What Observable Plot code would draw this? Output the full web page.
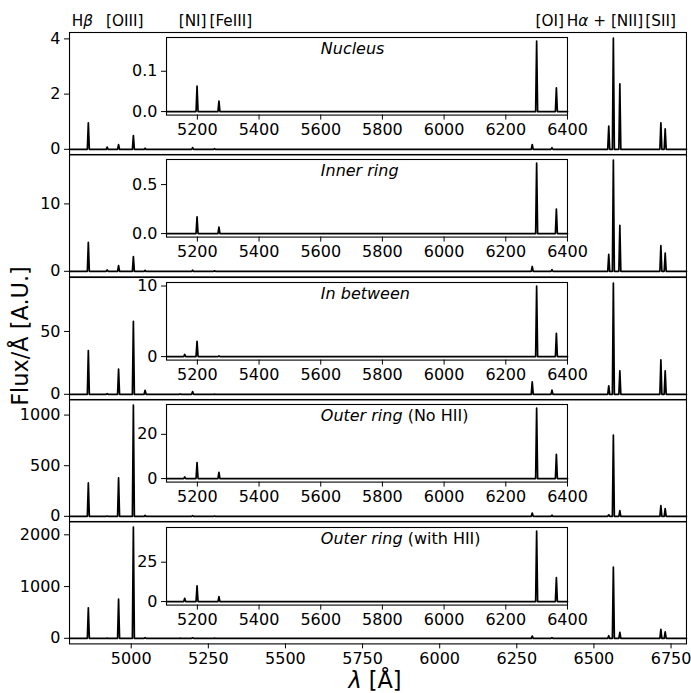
<!DOCTYPE html>
<html>
<head>
<meta charset="utf-8">
<script src="https://cdn.jsdelivr.net/npm/d3@7"></script>
<script src="https://cdn.jsdelivr.net/npm/@observablehq/plot@0.6"></script>
<style>
  body { margin: 0; background: #fff; }
  #chart { position: relative; width: 691px; height: 693px; font-family: "DejaVu Sans", sans-serif; }
  #chart svg { position: absolute; overflow: visible; }
</style>
</head>
<body>
<div id="chart"></div>
<script>
// ---------- DATA ----------
const lineNames = ["Hβ", "HeI 4922", "[OIII] 4959", "[OIII] 5007", "5041", "[FeII] 5159", "[NI] 5199", "[FeIII] 5270",
                   "[OI] 6300", "[OI] 6364", "[NII] 6548", "Hα", "[NII] 6584", "[SII] 6717", "[SII] 6731"];
const lineWaves = [4861, 4922, 4959, 5007, 5045, 5159, 5199, 5270, 6300, 6364, 6548, 6563, 6584, 6717, 6731];

const peaksNucleus    = [0.96, 0.08, 0.17, 0.50, 0.04, 0.0, 0.063, 0.026, 0.175, 0.059, 0.84, 4.03, 2.37, 0.96, 0.74];
const peaksInnerRing  = [4.3, 0.2, 0.85, 2.2, 0.15, 0.0, 0.17, 0.066, 0.72, 0.25, 2.5, 16.5, 6.8, 3.8, 2.7];
const peaksInBetween  = [34.8, 0.5, 20, 58, 3.2, 0.3, 2.15, 0.1, 10.0, 3.3, 6.7, 88.5, 18.7, 27.4, 18.7];
const peaksOuterNoHII = [330, 3, 380, 1099, 10, 0.75, 7.2, 2.8, 31.9, 11, 15, 802, 56, 106, 76];
const peaksOuterHII   = [590, 5, 756, 2150, 15, 2.1, 10, 3.1, 44.8, 15.2, 50, 1377, 115, 173, 127];

const regionNames = ["Nucleus", "Inner ring", "In between", "Outer ring", "Outer ring"];
const regionNotes = ["", "", "", " (No HII)", " (with HII)"];

const topLabels     = ["Hβ", "[OIII]", "[NI]", "[FeIII]", "[OI]", "Hα + [NII]", "[SII]"];
const topLabelWaves = [4842, 4979, 5199, 5323, 6357, 6536, 6716];

const xDomain = [4800, 6800];
const insetDomain = [5100, 6400];
const xTicks = [5000, 5250, 5500, 5750, 6000, 6250, 6500, 6750];
const insetXTicks = [5200, 5400, 5600, 5800, 6000, 6200, 6400];

const mainYTicks  = [[0, 2, 4], [0, 10], [0, 50], [0, 500, 1000], [0, 1000, 2000]];
const insetYTicks = [[0, 0.1], [0, 0.5], [0, 10], [0, 20], [0, 25]];
const mainYFormat  = ["d", "d", "d", "d", "d"];
const insetYFormat = [".1f", ".1f", "d", "d", "d"];

const allPeaks = [peaksNucleus, peaksInnerRing, peaksInBetween, peaksOuterNoHII, peaksOuterHII];

// ---------- LAYOUT / STYLE ----------
const W = 691;
const frameLeft = 69, frameRight = 686;
const panelTop0 = 31.7, panelH = 122.4;
const insetLeft = 165.7, insetW = 401, insetOffset = 5.2, insetH = 77.6;
const halfWidth = 3.2;        // half base width of each drawn emission line (Å)
const fs = 16;
const fsTop = 15.3;
const font = '"DejaVu Sans", sans-serif';
const svgNS = "http://www.w3.org/2000/svg";
const chart = document.getElementById("chart");

function spectrum(peaks, [lo, hi]) {
  const pts = [{x: lo, y: 0}];
  lineWaves.forEach((w, i) => {
    if (w < lo || w > hi) return;
    pts.push({x: w - halfWidth, y: 0}, {x: w, y: peaks[i]}, {x: w + halfWidth, y: 0});
  });
  pts.push({x: hi, y: 0});
  return pts;
}
function padDomain(pts) {
  const lo = d3.min(pts, d => d.y), hi = d3.max(pts, d => d.y);
  const r = hi - lo;
  return [lo - 0.05 * r, hi + 0.05 * r];
}
function richText(svg, map) {
  d3.select(svg).selectAll("text").each(function () {
    const t = this.textContent;
    if (map[t]) {
      this.textContent = "";
      for (const [s, it] of map[t]) {
        if (!s) continue;
        const ts = document.createElementNS(svgNS, "tspan");
        ts.textContent = s;
        if (it) ts.setAttribute("font-style", "italic");
        this.appendChild(ts);
      }
    }
  });
}
function place(svg, left, top) {
  svg.style.left = left + "px";
  svg.style.top = top + "px";
  chart.appendChild(svg);
}

const baseStyle = {overflow: "visible", background: "transparent", fontFamily: font, fontSize: fs + "px", color: "black"};

// axis titles overlay
const overlay = d3.create("svg").attr("width", W).attr("height", 693).style("left", "0px").style("top", "0px");
overlay.append("text")
  .attr("transform", "translate(28,336) rotate(-90)")
  .attr("text-anchor", "middle")
  .attr("font-family", font).attr("font-size", 22.4)
  .text("Flux/Å [A.U.]");
const xl = overlay.append("text")
  .attr("x", 375).attr("y", 688)
  .attr("text-anchor", "middle")
  .attr("font-family", font).attr("font-size", 22.4);
xl.append("tspan").attr("font-style", "italic").text("λ");
xl.append("tspan").text(" [Å]");
chart.appendChild(overlay.node());

const richMap = {
  "Hβ": [["H", false], ["β", true]],
  "Hα + [NII]": [["H", false], ["α", true], [" + [NII]", false]]
};

allPeaks.forEach((peaks, i) => {
  const top = panelTop0 + i * panelH;
  const isBottom = i === allPeaks.length - 1;
  const mainData = spectrum(peaks, xDomain);
  const marks = [
    Plot.line(mainData, {x: "x", y: "y", stroke: "black", strokeWidth: 1.7, strokeLinejoin: "round"}),
    Plot.frame({stroke: "black", strokeWidth: 1.1}),
    Plot.axisY({ticks: mainYTicks[i], tickSize: 5, tickPadding: 4, tickFormat: d3.format(mainYFormat[i]), fontSize: fs, label: null})
  ];
  if (isBottom) marks.push(Plot.axisX({ticks: xTicks, tickSize: 5, tickPadding: 4, tickFormat: d3.format("d"), fontSize: fs, label: null}));
  if (i === 0) marks.push(Plot.text(topLabels, {x: topLabelWaves, text: d => d, frameAnchor: "top", dy: -11.5, fontSize: fsTop, lineAnchor: "middle"}));
  const main = Plot.plot({
    width: W, height: panelH,
    marginLeft: frameLeft, marginRight: W - frameRight, marginTop: 0, marginBottom: 0,
    style: baseStyle,
    x: {domain: xDomain, axis: isBottom ? undefined : null, label: null},
    y: {domain: padDomain(mainData), label: null},
    marks
  });
  if (i === 0) richText(main, richMap);
  place(main, 0, top);

  const insetData = spectrum(peaks, insetDomain);
  const title = regionNames[i] + regionNotes[i];
  const inset = Plot.plot({
    width: insetW, height: insetH,
    marginLeft: 0, marginRight: 0, marginTop: 0, marginBottom: 0,
    style: baseStyle,
    x: {domain: insetDomain, label: null},
    y: {domain: padDomain(insetData), label: null},
    marks: [
      Plot.frame({fill: "white"}),
      Plot.line(insetData, {x: "x", y: "y", stroke: "black", strokeWidth: 1.7, strokeLinejoin: "round"}),
      Plot.frame({stroke: "black", strokeWidth: 1.1}),
      Plot.axisY({ticks: insetYTicks[i], tickSize: 5, tickPadding: 4, tickFormat: d3.format(insetYFormat[i]), fontSize: fs, label: null}),
      Plot.axisX({ticks: insetXTicks, tickSize: 5, tickPadding: 4, tickFormat: d3.format("d"), fontSize: fs, label: null}),
      Plot.text([title], {text: d => d, frameAnchor: "top-left", dx: 154.3, dy: 11.5, textAnchor: "start", lineAnchor: "middle", fontSize: fs})
    ]
  });
  richText(inset, {[title]: [[regionNames[i], true], [regionNotes[i], false]]});
  place(inset, insetLeft, top + insetOffset);
});
</script>
</body>
</html>
